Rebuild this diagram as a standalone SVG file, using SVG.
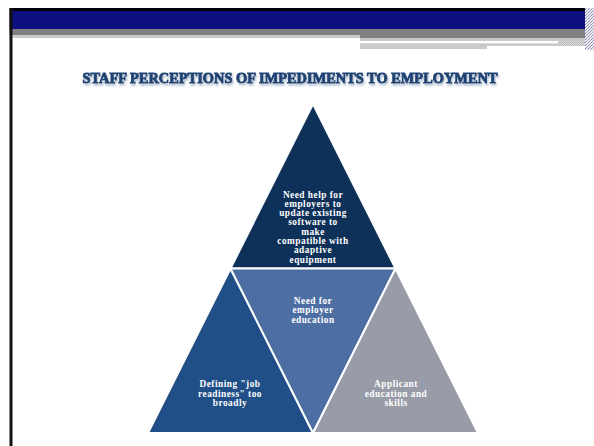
<svg xmlns="http://www.w3.org/2000/svg" width="594" height="446" viewBox="0 0 594 446">
  <defs>
    <pattern id="dither" width="2" height="2" patternUnits="userSpaceOnUse">
      <rect width="2" height="2" fill="#d6d6d6"/>
      <rect width="1" height="1" fill="#bdbdbd"/>
      <rect x="1" y="1" width="1" height="1" fill="#bdbdbd"/>
    </pattern>
    <pattern id="edge" width="3" height="3" patternUnits="userSpaceOnUse">
      <rect width="3" height="3" fill="#e8e8ee"/>
      <rect width="1" height="1" fill="#8a8ac0"/>
      <rect x="2" y="1" width="1" height="1" fill="#b0b0b0"/>
      <rect x="1" y="2" width="1" height="1" fill="#9a9ad0"/>
    </pattern>
    <!-- soft reflected shadow under the heading -->
    <filter id="titleShadow" x="-5%" y="-60%" width="110%" height="240%">
      <feOffset in="SourceAlpha" dx="0.5" dy="2.2" result="off"/>
      <feGaussianBlur in="off" stdDeviation="0.9" result="blur"/>
      <feFlood flood-color="#9fb0c6" flood-opacity="0.9"/>
      <feComposite in2="blur" operator="in" result="shadow"/>
      <feMerge>
        <feMergeNode in="shadow"/>
        <feMergeNode in="SourceGraphic"/>
      </feMerge>
    </filter>
  </defs>
  <style>
    .lbl { font-family: "Liberation Serif", "Times New Roman", serif; font-weight: bold; font-size: 9.3px; letter-spacing: 0.5px; fill: #ffffff; text-anchor: middle; }
    .title { font-family: "Liberation Serif", "Times New Roman", serif; font-weight: bold; font-size: 14.5px; }
    .tri { stroke: #ffffff; stroke-width: 2; stroke-linejoin: miter; }
  </style>

  <rect width="594" height="446" fill="#ffffff"/>

  <!-- header bands -->
  <g id="header">
    <rect x="9.5" y="8" width="576" height="3" fill="#000000"/>
    <rect x="9.5" y="11" width="576" height="18" fill="#0e1080"/>
    <rect x="9.5" y="29" width="576" height="6" fill="#808080"/>
    <rect x="12.5" y="35" width="347.5" height="3" fill="url(#dither)"/>
    <rect x="360" y="35" width="225.5" height="3" fill="#808080"/>
    <rect x="360" y="38" width="225.5" height="11" fill="url(#dither)"/>
    <rect x="360" y="41" width="198" height="2.3" fill="#ffffff"/>
    <rect x="487" y="46" width="98.5" height="4" fill="#ffffff"/>
    <rect x="585" y="8" width="9" height="42" fill="url(#edge)"/>
    <rect x="9.5" y="8" width="3" height="438" fill="#111111"/>
  </g>

  <!-- title -->
  <g id="title">
    <text class="title" x="290" y="82.8" text-anchor="middle" textLength="415" lengthAdjust="spacingAndGlyphs" fill="#1d4474" stroke="#1d4474" stroke-width="0.9" filter="url(#titleShadow)">STAFF PERCEPTIONS OF IMPEDIMENTS TO EMPLOYMENT</text>
  </g>

  <!-- top triangle -->
  <g id="node-top">
    <polygon class="tri" points="313,104 230.5,268.5 395.5,268.5" fill="#0e3159"/>
    <text class="lbl" x="313" y="197.5">Need help for</text>
    <text class="lbl" x="313" y="206.8">employers to</text>
    <text class="lbl" x="313" y="216.1">update existing</text>
    <text class="lbl" x="313" y="225.4">software to</text>
    <text class="lbl" x="313" y="234.7">make</text>
    <text class="lbl" x="313" y="244">compatible with</text>
    <text class="lbl" x="313" y="253.3">adaptive</text>
    <text class="lbl" x="313" y="262.6">equipment</text>
  </g>

  <!-- bottom left triangle -->
  <g id="node-left">
    <polygon class="tri" points="230.5,268.5 148,433 313,433" fill="#204e86"/>
    <text class="lbl" x="230" y="387">Defining "job</text>
    <text class="lbl" x="230" y="396.5">readiness" too</text>
    <text class="lbl" x="230" y="406">broadly</text>
  </g>

  <!-- centre inverted triangle -->
  <g id="node-middle">
    <polygon class="tri" points="230.5,268.5 395.5,268.5 313,433" fill="#4d6ea3"/>
    <text class="lbl" x="313" y="303.5">Need for</text>
    <text class="lbl" x="313" y="313">employer</text>
    <text class="lbl" x="313" y="322.5">education</text>
  </g>

  <!-- bottom right triangle -->
  <g id="node-right">
    <polygon class="tri" points="395.5,268.5 313,433 478,433" fill="#979ca8"/>
    <text class="lbl" x="396" y="387">Applicant</text>
    <text class="lbl" x="396" y="396.5">education and</text>
    <text class="lbl" x="396" y="406">skills</text>
  </g>

  <g id="connectors"/>
</svg>
